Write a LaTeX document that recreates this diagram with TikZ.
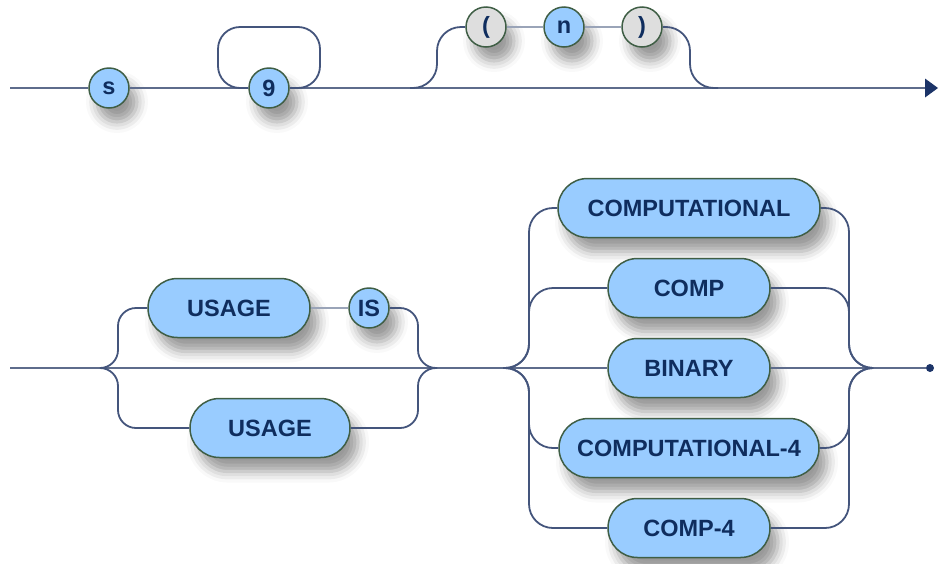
\documentclass[tikz,border=0pt]{standalone}
\usepackage{fontspec}
\setmainfont{Liberation Sans}
\usetikzlibrary{arrows.meta,shadows.blur}
\definecolor{bluefill}{HTML}{99CCFF}
\definecolor{grayfill}{HTML}{DEDEDE}
\definecolor{nodeborder}{HTML}{3F5E45}
\definecolor{txtcol}{HTML}{0F2D5E}
\definecolor{maincol}{HTML}{5E6C8C}
\definecolor{brcol}{HTML}{44557C}
\definecolor{seqcol}{HTML}{9AA4B8}
\definecolor{tipcol}{HTML}{1C3468}
\tikzset{
  shd/.style={blur shadow={shadow xshift=8pt, shadow yshift=-14pt, shadow blur radius=11pt, shadow opacity=40}},
  basenode/.style={draw=nodeborder, line width=1.5pt, text=txtcol, font=\fontsize{23.5}{26}\selectfont\bfseries, inner sep=0pt, shd},
  tc/.style={basenode, circle, fill=bluefill, minimum size=40pt},
  gc/.style={basenode, circle, fill=grayfill, minimum size=40pt},
  tr/.style={basenode, rectangle, rounded corners=29.5pt, fill=bluefill, minimum height=59pt},
  mainln/.style={draw=maincol, line width=2.8pt},
  brln/.style={draw=brcol, line width=1.8pt, rounded corners=24pt},
  brsm/.style={draw=brcol, line width=1.8pt, rounded corners=18pt},
  seqln/.style={draw=seqcol, line width=2.8pt},
}
\begin{document}
\begin{tikzpicture}[x=1pt,y=-1pt]
\useasboundingbox (0,0) rectangle (939,563);
% ---------- top row ----------
\node[tc] (s) at (109,88) {s};
\node[tc] (nine) at (269,88) {9};
\node[gc] (lp) at (486,27) {(};
\node[tc] (n) at (564,27) {n};
\node[gc] (rp) at (642,27) {)};
\coordinate (tst) at (10,88);
\coordinate (tend) at (938,88);
\coordinate (o1) at (410,88);
\coordinate (o1v) at (437,88);
\coordinate (o2v) at (690,88);
\coordinate (o2) at (718,88);
\coordinate (lpl) at (218,88);
\coordinate (lpr) at (320,88);
\coordinate (lpt) at (218,27);
\draw[mainln] (tst) -- (s);
\draw[mainln] (s) -- (nine);
\draw[mainln, -{Triangle[length=13pt,width=19pt,color=tipcol,fill=tipcol,line width=0pt]}] (nine) -- (tend);
\draw[brln, rounded corners=22pt] (nine.east) -- (lpr) |- (lpt) -- (lpl) -- (nine.west);
\draw[brln] (o1) -- (o1v) |- (lp.west);
\draw[brln] (rp.east) -| (o2v) -- (o2);
\draw[seqln] (lp) -- (n);
\draw[seqln] (n) -- (rp);
% ---------- bottom row ----------
\node[tr, minimum width=162pt] (u1) at (229,308) {USAGE};
\node[tc] (is) at (369,308) {IS};
\node[tr, minimum width=160pt] (u2) at (270,428) {USAGE};
\node[tr, minimum width=262pt] (c1) at (689,208) {COMPUTATIONAL};
\node[tr, minimum width=162pt] (c2) at (689,288) {COMP};
\node[tr, minimum width=162pt] (c3) at (689,368) {BINARY};
\node[tr, minimum width=260pt] (c4) at (689,448) {COMPUTATIONAL-4};
\node[tr, minimum width=162pt] (c5) at (689,528) {COMP-4};
\node[circle, fill=tipcol, inner sep=0pt, minimum size=8pt] (dot) at (930,368) {};
\coordinate (bst) at (10,368);
\coordinate (us) at (100,368);
\coordinate (ul) at (118,368);
\coordinate (ur) at (418,368);
\coordinate (um) at (437,368);
\coordinate (sp) at (503,368);
\coordinate (lv) at (529,368);
\coordinate (rv) at (849,368);
\coordinate (mg) at (872,368);
\draw[mainln] (bst) -- (sp);
\draw[mainln] (sp) -- (c3);
\draw[mainln] (c3) -- (dot);
\draw[brsm] (us) -- (ul) |- (u1.west);
\draw[brsm] (us) -- (ul) |- (u2.west);
\draw[brsm] (is.east) -| (ur) -- (um);
\draw[brsm] (u2.east) -| (ur) -- (um);
\draw[seqln] (u1) -- (is);
\draw[brln] (sp) -- (lv) |- (c1.west);
\draw[brln] (sp) -- (lv) |- (c2.west);
\draw[brln] (sp) -- (lv) |- (c4.west);
\draw[brln] (sp) -- (lv) |- (c5.west);
\draw[brln] (c1.east) -| (rv) -- (mg);
\draw[brln] (c2.east) -| (rv) -- (mg);
\draw[brln] (c4.east) -| (rv) -- (mg);
\draw[brln] (c5.east) -| (rv) -- (mg);
\end{tikzpicture}
\end{document}
